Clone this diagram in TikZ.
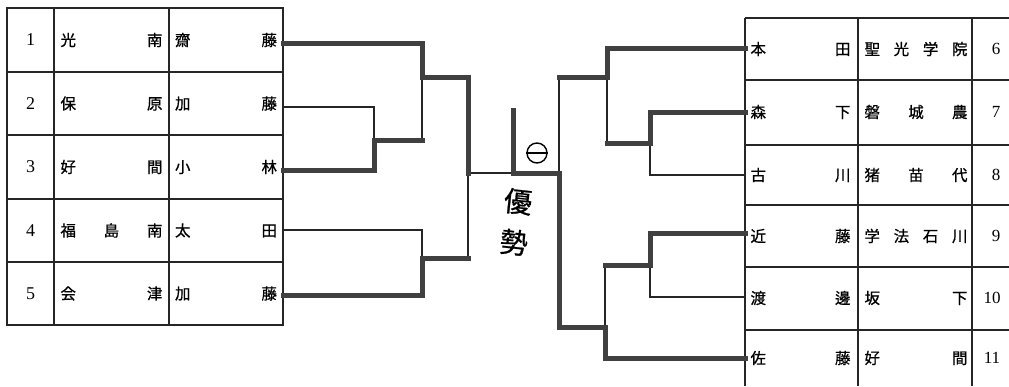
\documentclass[tikz,border=0pt]{standalone}
\usepackage{fontspec}
\newfontfamily\jp[FakeBold=0.8]{Noto Sans CJK JP}
\newfontfamily\numf{Liberation Serif}
\begin{document}
\begin{tikzpicture}[x=1pt,y=-1pt,
  tabline/.style={line width=1.6pt, draw=black!85},
  cellbox/.style={draw, tabline, inner sep=0pt, minimum height=63.5pt, font=\jp\fontsize{15.5}{15.5}\selectfont},
  numcell/.style={cellbox, minimum width=47pt, font=\numf\fontsize{18}{18}\selectfont},
  schcell/.style={cellbox, minimum width=115pt},
  namecell/.style={cellbox, minimum width=114pt},
  rcell/.style={inner sep=0pt, font=\jp\fontsize{15.5}{15.5}\selectfont},
  rnum/.style={inner sep=0pt, font=\numf\fontsize{17}{17}\selectfont},
  lose/.style={line width=1.8pt, draw=black!85, line cap=rect},
  adv/.style={line width=5pt, draw=black!75, line join=miter, line cap=rect},
  bigjp/.style={inner sep=0pt, align=center, font=\jp\fontsize{28}{41}\selectfont},
]
\useasboundingbox (0,0) rectangle (1009,386);

% ---------- left table ----------
\node[numcell] (L1k) at (30.5,40) {1};
\node[schcell] (L1s) at (111.5,40) {\hbox to 102pt{光\hfill 南}};
\node[namecell] (L1n) at (226,40) {\hbox to 102pt{齋\hfill 藤}};
\node[numcell] (L2k) at (30.5,103.5) {2};
\node[schcell] (L2s) at (111.5,103.5) {\hbox to 102pt{保\hfill 原}};
\node[namecell] (L2n) at (226,103.5) {\hbox to 102pt{加\hfill 藤}};
\node[numcell] (L3k) at (30.5,167) {3};
\node[schcell] (L3s) at (111.5,167) {\hbox to 102pt{好\hfill 間}};
\node[namecell] (L3n) at (226,167) {\hbox to 102pt{小\hfill 林}};
\node[numcell] (L4k) at (30.5,230.5) {4};
\node[schcell] (L4s) at (111.5,230.5) {\hbox to 102pt{福\hfill 島\hfill 南}};
\node[namecell] (L4n) at (226,230.5) {\hbox to 102pt{太\hfill 田}};
\node[numcell] (L5k) at (30.5,293.5) {5};
\node[schcell] (L5s) at (111.5,293.5) {\hbox to 102pt{会\hfill 津}};
\node[namecell] (L5n) at (226,293.5) {\hbox to 102pt{加\hfill 藤}};

% ---------- right table ----------
\foreach \yy in {18,80,145,205,267,330} \draw[tabline] (745,\yy) -- (1009,\yy);
\foreach \xx in {745,858,972} \draw[tabline] (\xx,18) -- (\xx,386);

\node[rcell] (R6n) at (800.5,49) {\hbox to 100pt{本\hfill 田}};
\node[rcell] (R6s) at (916,49) {\hbox to 103pt{聖\hfill 光\hfill 学\hfill 院}};
\node[rnum] (R6k) at (996,49) {6};
\node[rcell] (R7n) at (800.5,112) {\hbox to 100pt{森\hfill 下}};
\node[rcell] (R7s) at (916,112) {\hbox to 103pt{磐\hfill 城\hfill 農}};
\node[rnum] (R7k) at (996,112) {7};
\node[rcell] (R8n) at (800.5,175) {\hbox to 100pt{古\hfill 川}};
\node[rcell] (R8s) at (916,175) {\hbox to 103pt{猪\hfill 苗\hfill 代}};
\node[rnum] (R8k) at (996,175) {8};
\node[rcell] (R9n) at (800.5,236) {\hbox to 100pt{近\hfill 藤}};
\node[rcell] (R9s) at (916,236) {\hbox to 103pt{学\hfill 法\hfill 石\hfill 川}};
\node[rnum] (R9k) at (996,236) {9};
\node[rcell] (R10n) at (800.5,298) {\hbox to 100pt{渡\hfill 邊}};
\node[rcell] (R10s) at (916,298) {\hbox to 103pt{坂\hfill 下}};
\node[rnum] (R10k) at (992,298) {10};
\node[rcell] (R11n) at (800.5,358) {\hbox to 100pt{佐\hfill 藤}};
\node[rcell] (R11s) at (916,358) {\hbox to 103pt{好\hfill 間}};
\node[rnum] (R11k) at (992,358) {11};

% ---------- bracket coordinates ----------
\coordinate (a1) at (283,43);  \coordinate (a2) at (283,107);
\coordinate (a3) at (283,170); \coordinate (a4) at (283,230);
\coordinate (a5) at (283,295);
\coordinate (o23) at (374,140); \coordinate (jo23) at (422,140);
\coordinate (o1) at (422,77);   \coordinate (d1) at (468,77);
\coordinate (o45) at (422,258); \coordinate (d2) at (468,258);
\coordinate (oD) at (468,173);
\coordinate (fin) at (513,173); \coordinate (top) at (513,110);

\coordinate (b6) at (745,48);  \coordinate (b7) at (745,112);
\coordinate (b8) at (745,175); \coordinate (b9) at (745,233);
\coordinate (b10) at (745,297); \coordinate (b11) at (745,358);
\coordinate (oE) at (650,143); \coordinate (kE) at (607,143);
\coordinate (oF) at (607,77);  \coordinate (kF) at (559,77);
\coordinate (oG) at (650,265); \coordinate (kG) at (605,265);
\coordinate (oH) at (605,327); \coordinate (kH) at (559,327);
\coordinate (oI) at (559,173);

% ---------- losing (thin) lines ----------
\draw[lose] (a2) -| (o23);
\draw[lose] (o1) -- (jo23);
\draw[lose] (a4) -| (o45);
\draw[lose] (oD) -- (d2);
\draw[lose] (oD) -- (fin);
\draw[lose] (oF) -- (kE);
\draw[lose] (b8) -| (oE);
\draw[lose] (b10) -| (oG);
\draw[lose] (kG) -- (oH);
\draw[lose] (kF) -- (oI);

% ---------- advancing (thick) lines ----------
\draw[adv] (a1) -| (o1) -- (d1) -- (oD);
\draw[adv] (a3) -| (o23) -- (jo23);
\draw[adv] (a5) -| (o45) -- (d2);
\draw[adv] (b6) -| (oF) -- (kF);
\draw[adv] (b7) -| (oE) -- (kE);
\draw[adv] (b9) -| (oG) -- (kG);
\draw[adv] (b11) -| (oH) -- (kH) -- (oI) -- (fin) -- (top);

% ---------- champion mark ----------
\node[circle, draw, line width=1.4pt, minimum size=20pt, inner sep=0pt] (mark) at (537,153) {};
\draw[line width=1.4pt] (mark.west) -- (mark.east);
\node[bigjp, rotate=-6] (win) at (516,222) {優\\勢};
\end{tikzpicture}
\end{document}
